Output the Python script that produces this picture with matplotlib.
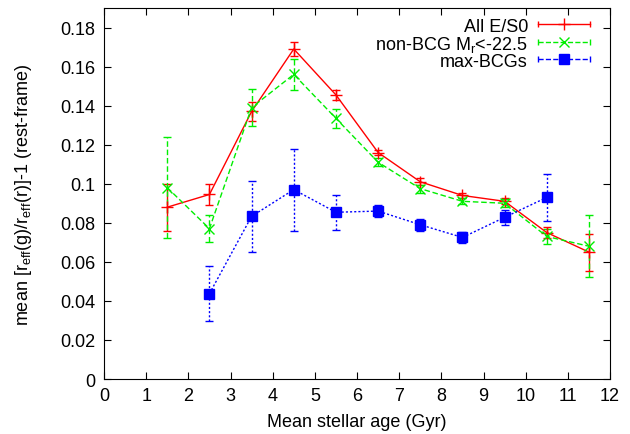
"""
Colour gradient vs mean stellar age for early-type galaxy samples
"""

import matplotlib
matplotlib.use('Agg')
import matplotlib.pyplot as plt
from matplotlib.lines import Line2D
from matplotlib.legend_handler import HandlerBase
from matplotlib.container import ErrorbarContainer

plt.rcParams['font.family'] = ['Liberation Sans', 'DejaVu Sans']

# All E/S0
all_age = [1.5, 2.5, 3.5, 4.5, 5.5, 6.5, 7.5, 8.5, 9.5, 10.5, 11.5]
all_val = [0.088, 0.0945, 0.137, 0.169, 0.1455, 0.116, 0.101, 0.094, 0.091, 0.075, 0.065]
all_err = [0.012, 0.0055, 0.005, 0.0037, 0.0025, 0.0015, 0.0018, 0.0015, 0.0015, 0.003, 0.0095]

# non-BCG Mr<-22.5
nb_age = [1.5, 2.5, 3.5, 4.5, 5.5, 6.5, 7.5, 8.5, 9.5, 10.5, 11.5]
nb_val = [0.098, 0.077, 0.139, 0.156, 0.1335, 0.111, 0.0975, 0.091, 0.090, 0.073, 0.068]
nb_err = [0.026, 0.007, 0.0095, 0.008, 0.005, 0.002, 0.002, 0.0015, 0.002, 0.004, 0.016]

# max-BCGs
bcg_age = [2.5, 3.5, 4.5, 5.5, 6.5, 7.5, 8.5, 9.5, 10.5]
bcg_val = [0.0437, 0.0833, 0.097, 0.0854, 0.086, 0.079, 0.0725, 0.0828, 0.093]
bcg_err = [0.014, 0.018, 0.021, 0.009, 0.003, 0.003, 0.003, 0.004, 0.012]

yticks = [0, 0.02, 0.04, 0.06, 0.08, 0.1, 0.12, 0.14, 0.16, 0.18]
ytick_labels = ['0', '0.02', '0.04', '0.06', '0.08', '0.1', '0.12',
                '0.14', '0.16', '0.18']


class GnuplotKeyHandler(HandlerBase):
    """horizontal errorbar sample like the gnuplot key"""

    def create_artists(self, legend, orig_handle, xdescent, ydescent,
                       width, height, fontsize, trans):
        src = orig_handle[0]
        y = height / 2 - ydescent
        x0, x1 = -xdescent, width - xdescent
        line = Line2D([x0, x1], [y, y], color=src.get_color(),
                      ls=src.get_linestyle(), lw=src.get_linewidth())
        caps = Line2D([x0, x1], [y, y], ls='none', marker='|', ms=5,
                      mew=1, color=src.get_color())
        mark = Line2D([(x0 + x1) / 2], [y], ls='none',
                      marker=src.get_marker(), ms=src.get_markersize(),
                      mew=src.get_markeredgewidth(), color=src.get_color())
        for a in (line, caps, mark):
            a.set_transform(trans)
        return [line, caps, mark]


def main():
    fig = plt.figure(figsize=(6.3, 4.35), dpi=100)
    ax = fig.add_axes([0.1651, 0.1264, 0.8032, 0.8529])

    # red, solid
    e1 = ax.errorbar(all_age, all_val, yerr=all_err, color='#ff0000', lw=1,
                     marker='+', ms=8, mew=1, capsize=3, capthick=1,
                     label='All E/S0')

    # green, dashed
    e2 = ax.errorbar(nb_age, nb_val, yerr=nb_err, color='#00ee00',
                     lw=1, ls=(0, (4, 2)), marker='x', ms=7, mew=1,
                     capsize=3, capthick=1,
                     label='non-BCG M$_\\mathregular{r}$<-22.5')
    for b in e2[2]:
        b.set_linestyle((0, (4, 2)))

    # blue, dotted
    e3 = ax.errorbar(bcg_age, bcg_val, yerr=bcg_err, color='#0000ff',
                     lw=1, ls=(0, (1.5, 1.5)), marker='s', ms=7,
                     capsize=3, capthick=1, label='max-BCGs')
    for b in e3[2]:
        b.set_linestyle((0, (1.5, 1.5)))

    ax.set_xlim(0, 12)
    ax.set_ylim(0, 0.19)
    ax.set_xticks(range(0, 13))
    ax.set_yticks(yticks)
    ax.set_yticklabels(ytick_labels)
    ax.tick_params(direction='in', top=True, right=True, length=5,
                   labelsize=13, pad=6)
    ax.set_xlabel('Mean stellar age (Gyr)', fontsize=13, labelpad=6)
    ax.set_ylabel('mean [r$_\\mathregular{eff}$(g)/r$_\\mathregular{eff}$(r)]-1 (rest-frame)',
                  fontsize=13, labelpad=19)

    ax.legend(handles=[e1, e2, e3],
              handler_map={ErrorbarContainer: GnuplotKeyHandler()},
              loc='upper right', bbox_to_anchor=(0.937, 0.957),
              bbox_transform=fig.transFigure, markerfirst=False,
              frameon=False, fontsize=13, handlelength=2.9, borderpad=0,
              borderaxespad=0, labelspacing=-0.06, handletextpad=0.55)

    fig.savefig('out.png', dpi=100)


if __name__ == "__main__":
    main()
